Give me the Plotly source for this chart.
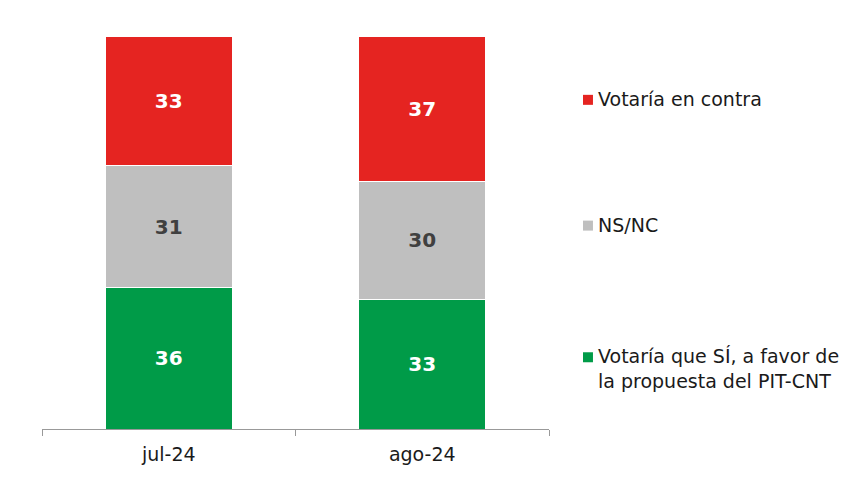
import plotly.graph_objects as go

categories = ["jul-24", "ago-24"]
series_names = ["Votaría que SÍ, a favor de<br>la propuesta del PIT-CNT", "NS/NC", "Votaría en contra"]
si_values = [36, 33]
nsnc_values = [31, 30]
contra_values = [33, 37]

colors = ["#009B48", "#BFBFBF", "#E52421"]
label_colors = ["#FFFFFF", "#404040", "#FFFFFF"]
all_values = [si_values, nsnc_values, contra_values]

FONT = "DejaVu Sans, sans-serif"

fig = go.Figure()
for name, vals, col, lc in zip(series_names, all_values, colors, label_colors):
    fig.add_trace(go.Bar(
        x=categories, y=vals, name=name,
        marker=dict(color=col, line=dict(color="white", width=1)),
        text=[str(v) for v in vals], textposition="inside",
        insidetextanchor="middle", textangle=0,
        textfont=dict(family=FONT, size=20, color=lc, weight="bold"),
        width=0.5, showlegend=False,
    ))

# custom legend aligned with first category segments
cum = 0
for name, vals, col in zip(series_names, all_values, colors):
    mid = cum + vals[0] / 2
    cum += vals[0]
    nlines = name.count("<br>") + 1
    fig.add_shape(
        type="rect", xref="paper", yref="y",
        xsizemode="pixel", ysizemode="pixel",
        xanchor=1.067, x0=0, x1=10,
        yanchor=mid, y0=-4, y1=6,
        fillcolor=col, line=dict(width=0),
    )
    fig.add_annotation(
        x=1.093, xref="paper", y=mid, yref="y",
        text=name, showarrow=False, xanchor="left", yanchor="middle",
        align="left", yshift=-(nlines - 1) * 12 + 2,
        font=dict(family=FONT, size=19, color="#1a1a1a"),
    )

fig.update_layout(
    barmode="stack",
    width=865, height=478,
    margin=dict(l=34, r=324, t=28, b=57),
    paper_bgcolor="white", plot_bgcolor="white",
    xaxis=dict(
        showline=True, linecolor="#999999", linewidth=1,
        ticks="outside", tickson="boundaries", ticklen=6, tickcolor="#999999",
        ticklabelstandoff=8,
        tickfont=dict(family=FONT, size=19, color="#1a1a1a"),
        showgrid=False,
    ),
    yaxis=dict(range=[0, 100], visible=False, showgrid=False),
)

fig.write_html("out.html")
